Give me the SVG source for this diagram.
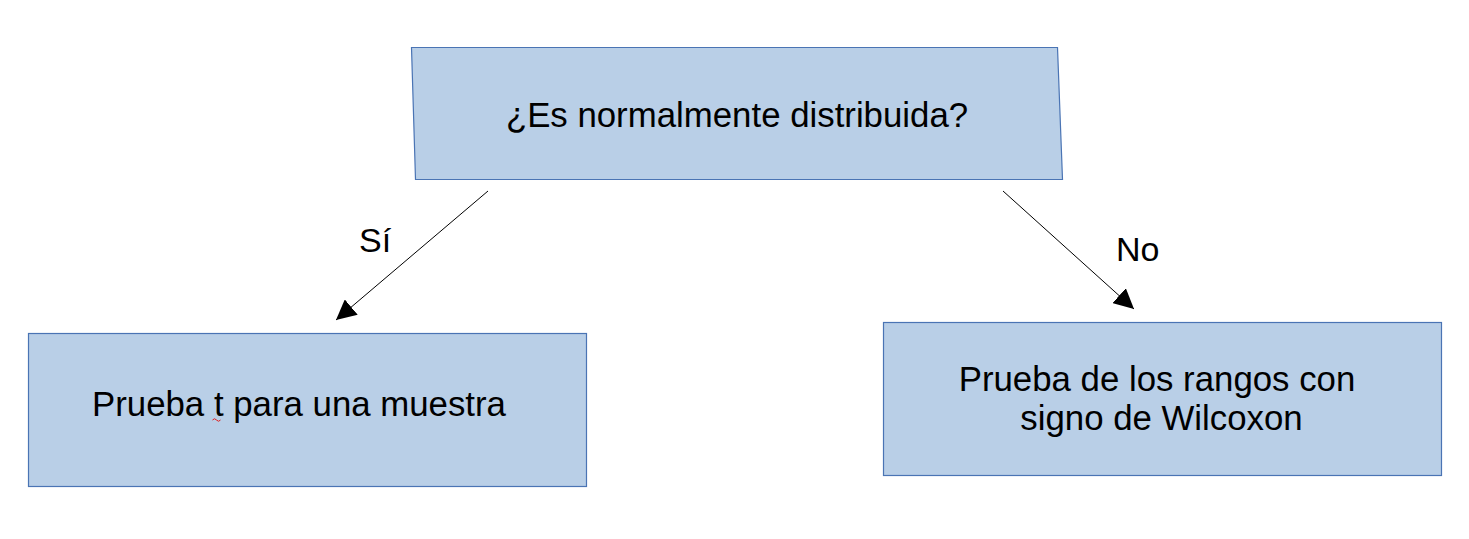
<svg xmlns="http://www.w3.org/2000/svg" width="1469" height="539" viewBox="0 0 1469 539">
<style>
.box{fill:#b9cfe7;stroke:#4a74b4;stroke-width:1.2}
.t{font-family:"Liberation Sans",Arial,sans-serif;font-size:34.8px;fill:#000;text-anchor:middle}
.lbl{font-family:"Liberation Sans",Arial,sans-serif;font-size:34px;fill:#000}
.c{stroke:#000;stroke-width:1;fill:none}
</style>
<defs>
<marker id="ah" viewBox="0 0 20 20" refX="20" refY="10" markerWidth="20" markerHeight="20" markerUnits="userSpaceOnUse" orient="auto">
<path d="M0,0 L20,10 L0,20 Z" fill="#000"/>
</marker>
</defs>
<rect width="1469" height="539" fill="#fff"/>
<g id="node-question">
<polygon class="box" points="411.5,47.5 1057.5,47.5 1062.5,179.5 415.5,179.5"/>
<text class="t" x="737" y="127">¿Es normalmente distribuida?</text>
</g>
<g id="node-ttest">
<rect class="box" x="28.5" y="333.5" width="558" height="153"/>
<text class="t" x="299" y="416">Prueba t para una muestra</text>
<path d="M212.5,420 q2,-2.5 4,0 t4,0" stroke="#e02020" stroke-width="1" fill="none"/>
</g>
<g id="node-wilcoxon">
<rect class="box" x="883.5" y="322.5" width="558" height="153"/>
<text class="t" x="1157" y="391">Prueba de los rangos con</text>
<text class="t" x="1161.5" y="430">signo de Wilcoxon</text>
</g>
<g id="connectors">
<line class="c" x1="488" y1="191" x2="336" y2="320" marker-end="url(#ah)"/>
<line class="c" x1="1003" y1="191" x2="1134" y2="309" marker-end="url(#ah)"/>
<text class="lbl" x="359" y="252">Sí</text>
<text class="lbl" x="1116" y="261">No</text>
</g>
</svg>
